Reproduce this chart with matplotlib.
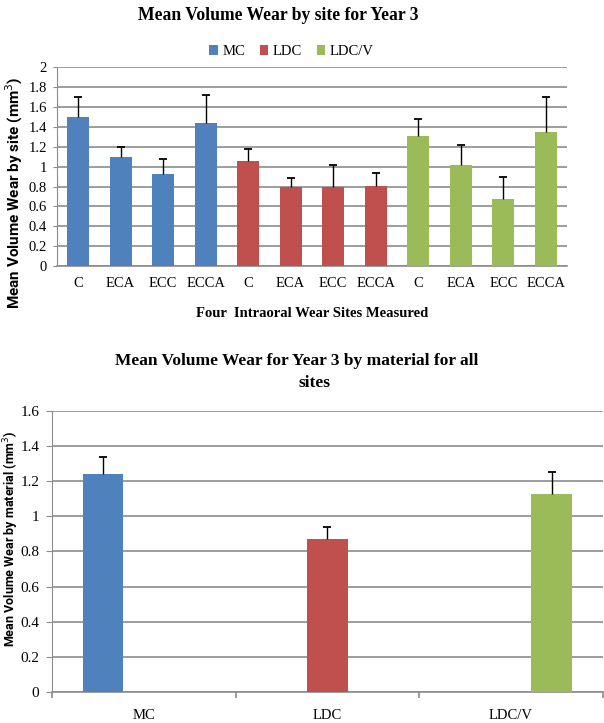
import numpy as np
import matplotlib.pyplot as plt

# data
sites = ['C', 'ECA', 'ECC', 'ECCA']
materials = ['MC', 'LDC', 'LDC/V']
colors = ['#4F81BD', '#C0504D', '#9BBB59']

site_mean = {
    'MC': [1.50, 1.10, 0.93, 1.44],
    'LDC': [1.06, 0.80, 0.80, 0.81],
    'LDC/V': [1.31, 1.02, 0.67, 1.35],
}
site_err = {
    'MC': [0.20, 0.10, 0.15, 0.28],
    'LDC': [0.12, 0.09, 0.22, 0.13],
    'LDC/V': [0.17, 0.20, 0.23, 0.35],
}

mat_mean = [1.24, 0.87, 1.13]
mat_err = [0.10, 0.07, 0.12]

serif = 'Liberation Serif'
sans = ['Roboto', 'DejaVu Sans']
grid_c = '#8c8c8c'


def up_err(ax, xs, ys, errs):
    # plus-only error bar: whisker and a single cap on top
    xs, ys, errs = np.asarray(xs), np.asarray(ys), np.asarray(errs)
    ax.vlines(xs, ys, ys + errs, color='black', linewidth=1, zorder=4)
    ax.plot(xs, ys + errs, linestyle='none', marker='_', markersize=6,
            markeredgewidth=1.3, color='black', zorder=4)


fig = plt.figure(figsize=(6.04, 7.23), dpi=100)

# ---- top chart: by site
ax1 = fig.add_axes([0.094, 0.632, 0.845, 0.275])
for i, m in enumerate(materials):
    xs = np.arange(4) + 4 * i
    ax1.bar(xs, site_mean[m], width=0.52, color=colors[i], label=m, zorder=3)
    up_err(ax1, xs, site_mean[m], site_err[m])
ax1.set_xlim(-0.5, 11.5)
ax1.set_ylim(0, 2)
ax1.set_yticks(np.arange(0, 2.01, 0.2))
ax1.set_yticklabels(['0', '0.2', '0.4', '0.6', '0.8', '1', '1.2', '1.4', '1.6', '1.8', '2'],
                    fontfamily=serif, fontsize=10.5)
ax1.set_xticks(np.arange(12))
ax1.set_xticklabels(sites * 3, fontfamily=serif, fontsize=10.5)
ax1.tick_params(axis='x', length=0, pad=8)
ax1.tick_params(axis='y', length=3, color=grid_c, pad=4)
ax1.yaxis.grid(True, color=grid_c, linewidth=1.2, zorder=0)
for s in ['top', 'right']:
    ax1.spines[s].set_visible(False)
ax1.spines['left'].set_color(grid_c)
ax1.spines['bottom'].set_color(grid_c)
ax1.spines['bottom'].set_linewidth(1.2)
ax1.set_xlabel('Four  Intraoral Wear Sites Measured', fontfamily=serif, fontweight='bold',
               fontsize=10.5, labelpad=12)
fig.text(0.024, 0.734, 'Mean Volume Wear by site (mm$^3$)', rotation=90, ha='center',
         va='center', family=sans, fontweight='bold', fontsize=11)
ax1.legend(loc='center', bbox_to_anchor=(0.46, 1.078), ncol=3, frameon=False,
           handlelength=0.6, handleheight=0.6, handletextpad=0.3, columnspacing=1.0,
           prop=dict(family=serif, size=10.5))
fig.text(0.461, 0.979, 'Mean Volume Wear by site for Year 3', ha='center', va='center',
         fontfamily=serif, fontweight='bold', fontsize=12.7)

# ---- bottom chart: by material
ax2 = fig.add_axes([0.086, 0.043, 0.912, 0.3885])
bw = 0.222
for i, m in enumerate(materials):
    xs = i + (i - 1) * bw
    ax2.bar([xs], [mat_mean[i]], width=bw, color=colors[i], zorder=3)
    up_err(ax2, [xs], [mat_mean[i]], [mat_err[i]])
ax2.set_xlim(-0.5, 2.5)
ax2.set_ylim(0, 1.6)
ax2.set_yticks(np.arange(0, 1.61, 0.2))
ax2.set_yticklabels(['0', '0.2', '0.4', '0.6', '0.8', '1', '1.2', '1.4', '1.6'],
                    fontfamily=serif, fontsize=11)
ax2.set_xticks(np.arange(3))
ax2.set_xticklabels(materials, fontfamily=serif, fontsize=10.5)
ax2.set_xticks([-0.5, 0.5, 1.5, 2.5], minor=True)
ax2.tick_params(axis='x', which='major', length=0, pad=12)
ax2.tick_params(axis='x', which='minor', length=4, color=grid_c, width=1.2)
ax2.tick_params(axis='y', length=4, color=grid_c, pad=5)
ax2.yaxis.grid(True, color=grid_c, linewidth=1.2, zorder=0)
for s in ['top', 'right']:
    ax2.spines[s].set_visible(False)
ax2.spines['left'].set_color(grid_c)
ax2.spines['bottom'].set_color(grid_c)
ax2.spines['bottom'].set_linewidth(1.2)
fig.text(0.018, 0.255, 'Mean Volume Wear by material (mm$^3$)', rotation=90, ha='center',
         va='center', family=sans, fontweight='bold', fontsize=9)
fig.text(0.492, 0.5007, 'Mean Volume Wear for Year 3 by material for all', ha='center',
         va='center', fontfamily=serif, fontweight='bold', fontsize=12.5)
fig.text(0.5215, 0.4703, 'sites', ha='center', va='center',
         fontfamily=serif, fontweight='bold', fontsize=12.5)

fig.savefig('out.png', dpi=100)
